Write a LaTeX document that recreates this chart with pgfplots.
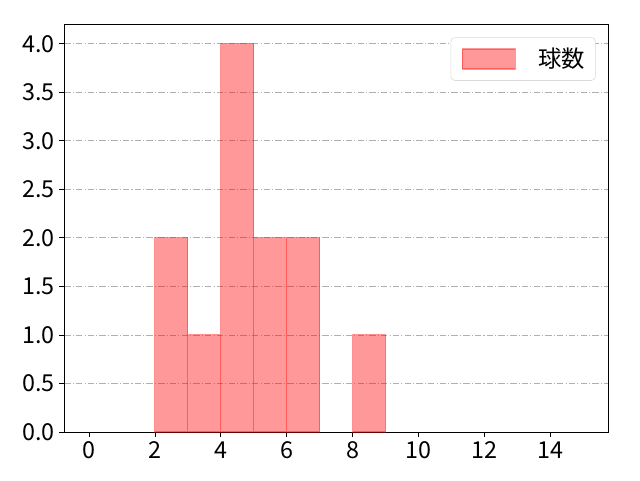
\documentclass[border=0pt]{standalone}
\usepackage{fontspec}
\setmainfont{Noto Sans CJK JP}
\usepackage{pgfplots}
\pgfplotsset{compat=1.18}

\definecolor{gridgray}{HTML}{B0B0B0}

\begin{document}
\begin{tikzpicture}
  % page = 640x480 px at 0.75pt/px
  \path[use as bounding box] (-48.2pt,-36pt) rectangle ++(480pt,360pt);
  \begin{axis}[
    at={(0,0)}, anchor=south west,
    scale only axis,
    width=408pt, height=305.8pt,
    xmin=-0.75, xmax=15.75,
    ymin=0, ymax=4.2,
    xtick={0,2,...,14},
    ytick={0,0.5,...,4.0},
    yticklabel style={/pgf/number format/.cd, fixed, fixed zerofill, precision=1},
    /pgf/number format/assume math mode=true,
    tick label style={font=\fontsize{17.5}{20}\selectfont},
    tick align=outside,
    major tick length=3.7pt,
    tick style={black, line width=0.6pt},
    xtick pos=bottom, ytick pos=left,
    axis line style={line width=0.6pt},
    ymajorgrids,
    grid style={gridgray, dash pattern=on 4.8pt off 1.6pt on 0.8pt off 1.6pt, line width=0.6pt},
    ybar, bar width=1, bar shift=0pt,
    legend style={
      at={(1,1)}, anchor=north east,
      xshift=-9.5pt, yshift=-9.75pt,
      draw=black!15, rounded corners=3pt,
      font=\fontsize{17.5}{20}\selectfont,
      inner xsep=8pt, inner ysep=8pt,
      nodes={inner sep=0pt},
      /tikz/every odd column/.style={column sep=16.5pt},
    },
    legend image code/.code={
      \draw[#1, sharp corners] (0pt,-7.5pt) rectangle (40pt,7.5pt);
    },
  ]
    \addplot[fill=red, fill opacity=0.4, draw=red, draw opacity=0.4, line width=0.8pt]
      coordinates {(2.5,2) (3.5,1) (4.5,4) (5.5,2) (6.5,2) (8.5,1)};
    \addlegendentry{球数}
  \end{axis}
\end{tikzpicture}
\end{document}
